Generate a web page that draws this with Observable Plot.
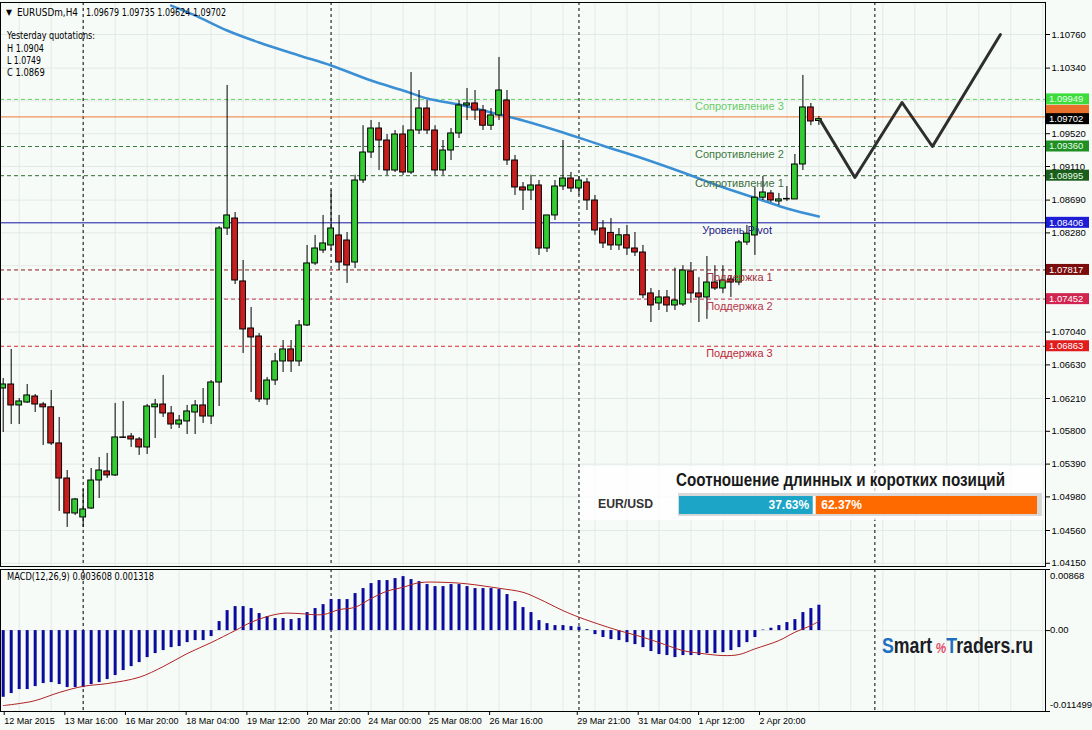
<!DOCTYPE html>
<html><head><meta charset="utf-8">
<script src="https://cdn.jsdelivr.net/npm/d3@7"></script>
<script src="https://cdn.jsdelivr.net/npm/@observablehq/plot@0.6"></script>
<style>
body{margin:0;background:#f7fbf8;}
#wrap{position:relative;width:1092px;height:730px;overflow:hidden;background:#f7fbf8;}
#wrap svg{display:block;}
.ov{position:absolute;white-space:nowrap;transform-origin:0 50%;font-family:"DejaVu Sans","Liberation Sans",sans-serif;color:#000;}
</style></head><body><div id="wrap"></div>
<script>
// ================= DATA =================
const symbolTitle = "EURUSDm,H4";
const lastQuote = [1.09679, 1.09735, 1.09624, 1.09702]; // O H L C
const yesterdayLines = ["Yesterday quotations:", "H 1.0904", "L 1.0749", "C 1.0869"];

const candleOpen = [
1.06335,1.06385,1.06123,1.0616,1.06235,1.06135,1.0610,1.05648,1.0521,1.04773,
1.04723,1.04835,1.05185,1.05298,1.05248,1.05723,1.05735,1.05698,1.05598,1.0610,
1.06135,1.06023,1.05885,1.05923,1.06035,1.06123,1.05985,1.0641,1.08335,1.0846,
1.07673,1.07085,1.06985,1.06198,1.06435,1.06673,1.06823,1.06673,1.07123,1.07898,
1.0806,1.08123,1.08248,1.08185,1.0791,1.08935,1.09285,1.09585,1.09435,1.0906,
1.0951,1.09035,1.0956,1.09835,1.0956,1.0906,1.0931,1.09523,1.09873,1.09898,
1.0981,1.0962,1.09748,1.09935,1.09185,1.08848,1.0881,1.08873,1.08085,1.08498,
1.0886,1.0896,1.08835,1.0891,1.08685,1.08335,1.0828,1.08123,1.0825,1.08085,
1.08035,1.07523,1.07398,1.07473,1.07373,1.07385,1.07798,1.07523,1.07473,1.0766,
1.07585,1.07698,1.0766,1.0816,1.08248,1.0872,1.08773,1.08673,1.08698,1.08698,
1.09135,1.09848,1.09679];
const candleHigh = [
1.0646,1.06823,1.0621,1.06385,1.0626,1.0616,1.0631,1.05973,1.0531,1.0496,
1.05073,1.05335,1.05473,1.05523,1.06148,1.06173,1.05773,1.05723,1.06135,1.06198,
1.06498,1.0611,1.05998,1.06123,1.06185,1.06335,1.06435,1.0836,1.10123,1.08535,
1.07935,1.07348,1.07023,1.06473,1.06773,1.06935,1.06935,1.07185,1.08123,1.08248,
1.08498,1.0881,1.08498,1.08285,1.0900,1.0962,1.09685,1.0966,1.0951,1.0956,
1.0962,1.10285,1.1006,1.09935,1.0962,1.09435,1.09585,1.09935,1.10085,1.1006,
1.09873,1.09835,1.10473,1.1006,1.09248,1.0891,1.0900,1.08935,1.08498,1.08935,
1.09435,1.09035,1.08985,1.0896,1.08748,1.08435,1.0846,1.08335,1.08373,1.08285,
1.08123,1.07585,1.0756,1.0756,1.0784,1.0787,1.0791,1.0772,1.07985,1.0787,
1.0787,1.07748,1.08185,1.08373,1.0885,1.08985,1.0881,1.08773,1.0886,1.0926,
1.10248,1.09898,1.09735];
const candleLow = [
1.05785,1.05885,1.05885,1.06148,1.06035,1.05623,1.05623,1.04798,1.04598,1.04748,
1.04598,1.04823,1.0496,1.0521,1.05235,1.0571,1.05598,1.05498,1.0551,1.0571,
1.05973,1.05823,1.05835,1.0576,1.0576,1.05898,1.05885,1.0611,1.08248,1.07635,
1.06773,1.06285,1.0616,1.06123,1.06373,1.06535,1.06535,1.0661,1.0711,1.07873,
1.08023,1.0806,1.0781,1.07648,1.07835,1.08898,1.0921,1.0906,1.08998,1.09035,
1.08998,1.0901,1.0951,1.0951,1.08998,1.08998,1.09185,1.0946,1.09685,1.09685,
1.0956,1.0956,1.09685,1.09123,1.08748,1.0856,1.08685,1.07998,1.08035,1.08435,
1.0881,1.08785,1.08748,1.0856,1.0825,1.08085,1.0806,1.0806,1.07998,1.07985,
1.0746,1.0716,1.0731,1.07285,1.0731,1.0736,1.0740,1.0716,1.0720,1.0756,
1.0752,1.07473,1.0762,1.08123,1.07998,1.08685,1.0866,1.08623,1.08673,1.08698,
1.0906,1.0962,1.09624];
const candleClose = [
1.06385,1.06123,1.06173,1.06248,1.06135,1.0610,1.05648,1.0521,1.04773,1.04948,
1.04823,1.05185,1.0531,1.05248,1.05723,1.05718,1.05698,1.05598,1.0611,1.06135,
1.06023,1.05885,1.05935,1.06048,1.06123,1.05985,1.0641,1.08335,1.08498,1.07685,
1.07073,1.06973,1.06198,1.06435,1.06673,1.06823,1.06673,1.07123,1.07898,1.08085,
1.08148,1.08335,1.0791,1.07873,1.08935,1.09285,1.09585,1.09435,1.0906,1.0951,
1.09035,1.0956,1.09835,1.0956,1.0906,1.0931,1.09523,1.09873,1.09898,1.0981,
1.0962,1.09748,1.1006,1.09185,1.08848,1.0881,1.08873,1.08085,1.08498,1.0886,
1.0896,1.08835,1.08935,1.08685,1.0831,1.08148,1.08123,1.0825,1.08085,1.08035,
1.0750,1.07373,1.07473,1.07373,1.07435,1.0781,1.07523,1.07473,1.0766,1.07585,
1.07685,1.0766,1.0816,1.0827,1.0872,1.08785,1.08685,1.08698,1.08705,1.09135,
1.09848,1.09673,1.09702];

// moving average (blue line), read at sample bars
const maBar   = [21, 24, 28, 32, 37, 41, 46, 50, 53, 57, 61, 65, 70, 75, 80, 85, 90, 95, 98, 102];
const maValue = [1.11122,1.10998,1.1081,1.1066,1.10498,1.10373,1.10185,1.1006,1.0996,1.09885,1.09785,1.09685,1.09535,1.0937,1.0921,1.09035,1.0885,1.08685,1.08585,1.08485];

// hand-drawn forecast zigzag
const forecastBar   = [102.2, 106.5, 112.4, 116.2, 124.7];
const forecastValue = [1.09685, 1.08973, 1.0991, 1.0936, 1.1076];

// pivot levels
const levelNames  = ["Сопротивление 3","Сопротивление 2","Сопротивление 1","Уровень Pivot","Поддержка 1","Поддержка 2","Поддержка 3"];
const levelValues = [1.09949, 1.09360, 1.08995, 1.08406, 1.07817, 1.07452, 1.06863];
const askPrice = 1.09730;

// axes
const priceTicks = [1.10760,1.10340,1.09930,1.09520,1.09110,1.08690,1.08280,1.07870,1.07460,1.07040,1.06630,1.06210,1.05800,1.05390,1.04980,1.04560,1.04150];
const hiddenPriceTicks = [1.09930, 1.07870, 1.07460]; // covered by level tags
const timeTickBar   = [0, 7.58, 15.16, 22.75, 30.35, 37.94, 45.53, 53.1, 60.7, 71.66, 79.28, 86.83, 94.45];
const timeTickLabel = ["12 Mar 2015","13 Mar 16:00","16 Mar 20:00","18 Mar 04:00","19 Mar 12:00","20 Mar 20:00","24 Mar 00:00","25 Mar 08:00","26 Mar 16:00","29 Mar 21:00","31 Mar 04:00","1 Apr 12:00","2 Apr 20:00"];
const weekStartBar  = [10, 41, 72, 109];

// MACD(12,26,9)
const macdHist = [
-0.00948,-0.00895,-0.00838,-0.00838,-0.00796,-0.00753,-0.00739,-0.00767,-0.00810,-0.00810,
-0.00810,-0.00767,-0.00739,-0.00696,-0.00639,-0.00568,-0.00512,-0.00455,-0.00384,-0.00327,
-0.00284,-0.00242,-0.00227,-0.00171,-0.00142,-0.00142,-0.00085,0.00128,0.00284,0.00341,
0.00341,0.00313,0.00242,0.00199,0.00171,0.00171,0.00156,0.00171,0.00256,0.00313,
0.00369,0.00441,0.00441,0.00441,0.00526,0.00597,0.00668,0.00711,0.00711,0.00739,
0.00767,0.00725,0.00696,0.00654,0.00625,0.00625,0.00654,0.00654,0.00625,0.00597,
0.00597,0.00597,0.00583,0.00512,0.00412,0.00327,0.00256,0.00142,0.00099,0.00071,
0.00071,0.00057,0.00050,0.00014,-0.00057,-0.00099,-0.00128,-0.00142,-0.00171,-0.00199,
-0.00242,-0.00298,-0.00341,-0.00355,-0.00384,-0.00355,-0.00355,-0.00355,-0.00327,-0.00327,
-0.00313,-0.00284,-0.00242,-0.00171,-0.00099,0.00007,0.00033,0.00071,0.00114,0.00156,
0.00256,0.00313,0.003608];
const signalBar   = [0,2,4,7,10,13,17,20,23,26,29,31,33,35,37,40,42,44,46,48,50,52,55,58,62,65,67,70,72,75,77,80,82,85,87,90,92,94,97,99,101,102];
const signalValue = [-0.01066,-0.01037,-0.00995,-0.0088,-0.00792,-0.00753,-0.00664,-0.00512,-0.00327,-0.00171,0,0.00118,0.00199,0.00246,0.00242,0.00227,0.00298,0.00331,0.00455,0.0056,0.00615,0.0068,0.00686,0.00664,0.00601,0.00544,0.0045,0.00284,0.0019,0.00071,0.0,-0.00095,-0.0017,-0.00284,-0.0032,-0.00355,-0.00341,-0.0026,-0.00142,-0.00024,0.00071,0.001318];
const macdMax = 0.00868, macdMin = -0.011499;
const macdLabel = "MACD(12,26,9) 0.003608 0.001318";

// long/short ratio widget
const ratioTitle = "Соотношение длинных и коротких позиций";
const ratioPair = "EUR/USD";
const ratioSides = ["long", "short"];
const ratioValues = [37.63, 62.37];

// ================= RENDER =================
const FONT = "Liberation Sans, Arial, sans-serif";
const BG = "#f7fbf8", GRID = "#e2eae5";
const GREEN = "#33cc33", RED = "#c81e1e";
const xDomain = [-0.3375, 130.3375];
const gridBars = d3.range(2, 131, 4);

const candles = candleOpen.map((o, i) => ({i, o, h: candleHigh[i], l: candleLow[i], c: candleClose[i]}));
const bulls = candles.filter(d => d.c >= d.o), bears = candles.filter(d => d.c < d.o);
const ma = maBar.map((b, k) => ({b, v: maValue[k]}));
const forecast = forecastBar.map((b, k) => ({b, v: forecastValue[k]}));
const levelStyle = [
  {line:"#5cd65c", text:"#66cc66", dashed:true,  at:86.5},
  {line:"#3a7d44", text:"#3f7a3f", dashed:true,  at:86.5},
  {line:"#2f6b2f", text:"#3f6e3f", dashed:true,  at:86.5},
  {line:"#1515a0", text:"#22228a", dashed:false, at:87.4},
  {line:"#8b1a1a", text:"#a0303a", dashed:true,  at:87.9},
  {line:"#c8304a", text:"#b8364a", dashed:true,  at:87.9},
  {line:"#d42a2a", text:"#c0283a", dashed:true,  at:87.9}
];
const levels = levelNames.map((n, k) => ({name: n, v: levelValues[k], ...levelStyle[k]}));
const fmt5 = d3.format(".5f");
const tags = [
  {value: levelValues[0], bg:"#3ddc3d", fg:"#e6ffe6"},
  {value: askPrice, bg:"#e8702a", shift:-6, noText:true},
  {value: lastQuote[3], bg:"#000", fg:"#fff"},
  {value: levelValues[1], bg:"#1f8f24", fg:"#e6ffe6"},
  {value: levelValues[2], bg:"#1b5e1b", fg:"#e6ffe6"},
  {value: levelValues[3], bg:"#1d1dd6", fg:"#fff"},
  {value: levelValues[4], bg:"#7a0c0c", fg:"#fff"},
  {value: levelValues[5], bg:"#d22450", fg:"#fff"},
  {value: levelValues[6], bg:"#e01c1c", fg:"#fff"}
].map(t => ({...t, text: t.noText ? null : fmt5(t.value)}));

function tagMark(items, fontSize) {
  return (index, scales, values, dims) => {
    const g = d3.create("svg:g").attr("font-size", fontSize).attr("font-family", FONT).attr("text-anchor", "start");
    const x0 = dims.width - dims.marginRight;
    for (const t of items) {
      const cy = scales.y(t.value) + (t.shift || 0);
      if (t.bg) g.append("rect").attr("x", x0 + 1).attr("y", cy - 5.5).attr("width", 43).attr("height", 11).attr("fill", t.bg);
      if (t.text) g.append("text").attr("x", x0 + (t.bg ? 4 : 5)).attr("y", cy).attr("dy", "0.35em").attr("text-anchor", "start").attr("fill", t.fg || "#000").text(t.text);
    }
    return g.node();
  };
}

const mainPlot = Plot.plot({
  width: 1092, height: 568,
  marginLeft: 0, marginRight: 47, marginTop: 2, marginBottom: 2,
  style: {background: BG, fontFamily: FONT, overflow: "visible"},
  x: {domain: xDomain, axis: null},
  y: {domain: [1.0411, 1.1116]},
  marks: [
    Plot.ruleX(gridBars, {stroke: GRID}),
    Plot.ruleY(priceTicks, {stroke: GRID}),
    Plot.ruleX(weekStartBar, {stroke: "#000", strokeDasharray: "3,3"}),
    Plot.ruleY(levels.filter(d => d.dashed), {y: "v", stroke: "line", strokeDasharray: "4,3"}),
    Plot.ruleY(levels.filter(d => !d.dashed), {y: "v", stroke: "line"}),
    Plot.ruleY([askPrice], {stroke: "#ee7a36"}),
    Plot.line(ma, {x: "b", y: "v", stroke: "#3b8fd4", strokeWidth: 2.5, curve: "catmull-rom"}),
    Plot.ruleX(candles, {x: "i", y1: "l", y2: "h", stroke: "#000"}),
    Plot.rect(bulls, {x1: d => d.i - 0.36, x2: d => d.i + 0.36, y1: "o", y2: "c", fill: GREEN, stroke: "#000"}),
    Plot.rect(bears, {x1: d => d.i - 0.36, x2: d => d.i + 0.36, y1: "o", y2: "c", fill: RED, stroke: "#000"}),
    Plot.line(forecast, {x: "b", y: "v", stroke: "#2e2e2e", strokeWidth: 3}),
    Plot.text(levels, {x: "at", y: "v", text: "name", fill: "text", dy: 7.5, textAnchor: "start", fontSize: 11}),
    Plot.axisY(priceTicks, {anchor: "right", tickSize: 4, tickPadding: 2, tickFormat: d => hiddenPriceTicks.includes(d) ? "" : fmt5(d), fontSize: 9.5, label: null}),
    tagMark(tags, 9.5),
    Plot.frame({stroke: "#000"})
  ]
});

const tickLabelMap = new Map(timeTickBar.map((b, k) => [b, timeTickLabel[k]]));
const macdRows = macdHist.map((v, i) => ({i, v}));
const signalRows = signalBar.map((b, k) => ({b, v: signalValue[k]}));
const macdTags = [
  {value: macdMax, text: fmt5(macdMax), shift: 7},
  {value: 0, text: "0.00"},
  {value: macdMin, text: String(macdMin), shift: -6}
];
const macdPlot = Plot.plot({
  width: 1092, height: 162,
  marginLeft: 0, marginRight: 47, marginTop: 1, marginBottom: 19,
  style: {background: BG, fontFamily: FONT, overflow: "visible"},
  x: {domain: xDomain},
  y: {domain: [macdMin, macdMax]},
  marks: [
    Plot.ruleX(gridBars, {stroke: GRID}),
    Plot.ruleY([0], {stroke: GRID}),
    Plot.ruleX(weekStartBar, {stroke: "#000", strokeDasharray: "3,3"}),
    Plot.ruleX(macdRows, {x: "i", y1: 0, y2: "v", stroke: "#0a0a9e", strokeWidth: 3}),
    Plot.line(signalRows, {x: "b", y: "v", stroke: "#b02222", strokeWidth: 1, curve: "catmull-rom"}),
    Plot.axisY(macdTags.map(t => t.value), {anchor: "right", tickSize: 4, tickFormat: () => "", label: null}),
    tagMark(macdTags, 9.5),
    Plot.axisX(timeTickBar, {anchor: "bottom", tickSize: 4, tickPadding: 2, tickFormat: d => tickLabelMap.get(d), textAnchor: "start", dx: 1, fontSize: 9, label: null}),
    Plot.frame({stroke: "#000"})
  ]
});

const wrap = document.getElementById("wrap");
wrap.appendChild(mainPlot);
wrap.appendChild(macdPlot);

function addText(html, left, cy, size, target, extra) {
  const d = document.createElement("div");
  d.className = "ov";
  d.innerHTML = html;
  Object.assign(d.style, {left: left + "px", top: (cy - size * 0.6) + "px", fontSize: size + "px", lineHeight: (size * 1.2) + "px"}, extra || {});
  wrap.appendChild(d);
  if (target) {
    const w = d.getBoundingClientRect().width;
    d.style.transform = `scaleX(${target / w})`;
  }
  return d;
}

// header
addText("▼", 6, 12.5, 8, 6);
addText(symbolTitle, 17, 12.7, 10, 61);
addText(lastQuote.map(fmt5).join(" "), 86, 12.7, 10, 140);
addText(yesterdayLines[0], 7, 36, 10, 88);
addText(yesterdayLines[1], 7, 49.3, 10, 37);
addText(yesterdayLines[2], 7, 61, 10, 34);
addText(yesterdayLines[3], 7, 72.7, 10, 37.7);
addText(macdLabel, 7, 577.3, 10, 147);

// ratio widget
const panel = document.createElement("div");
Object.assign(panel.style, {position: "absolute", left: "580px", top: "466px", width: "463px", height: "54px", background: "rgba(255,255,255,0.75)"});
wrap.appendChild(panel);
addText(ratioTitle, 676, 480.7, 19, 329, {fontFamily: "'Liberation Sans Narrow','Liberation Sans',sans-serif", fontWeight: "bold", color: "#1a1a1a"});
addText(ratioPair, 598, 504, 12, 55, {fontFamily: "'Liberation Sans',sans-serif", fontWeight: "bold", color: "#333"});
const ratioRows = ratioSides.map((s, k) => ({side: s, v: ratioValues[k]}));
const ratioPlot = Plot.plot({
  width: 364, height: 23, marginTop: 3, marginRight: 5, marginLeft: 1, marginBottom: 2,
  style: {background: "#d8d8d8", fontFamily: FONT},
  x: {domain: [0, 100], axis: null},
  color: {domain: ratioSides, range: ["#1ca5c6", "#ff6a00"]},
  marks: [
    Plot.barX(ratioRows, Plot.stackX({x: "v", fill: "side"})),
    Plot.ruleX([ratioValues[0]], {stroke: "#fff", strokeWidth: 3}),
    Plot.text([ratioValues[0]], {x: d => d, text: d => d.toFixed(2) + "%", textAnchor: "end", dx: -5, fill: "#fff", fontWeight: "bold", fontSize: 12}),
    Plot.text([ratioValues[0]], {x: d => d, text: () => ratioValues[1].toFixed(2) + "%", textAnchor: "start", dx: 7, fill: "#fff", fontWeight: "bold", fontSize: 12})
  ]
});
Object.assign(ratioPlot.style, {position: "absolute", left: "678px", top: "493px"});
wrap.appendChild(ratioPlot);

// watermark logo
addText('<span style="color:#1f6fc0">S</span>mart<span style="color:#e0506e;font-size:15px;font-style:italic"> %</span><span style="color:#1f6fc0">T</span>raders.ru',
  882, 646, 22, 151, {fontFamily: "'Liberation Sans Narrow','Liberation Sans',sans-serif", fontWeight: "bold", color: "#1c1c24"});
</script></body></html>
